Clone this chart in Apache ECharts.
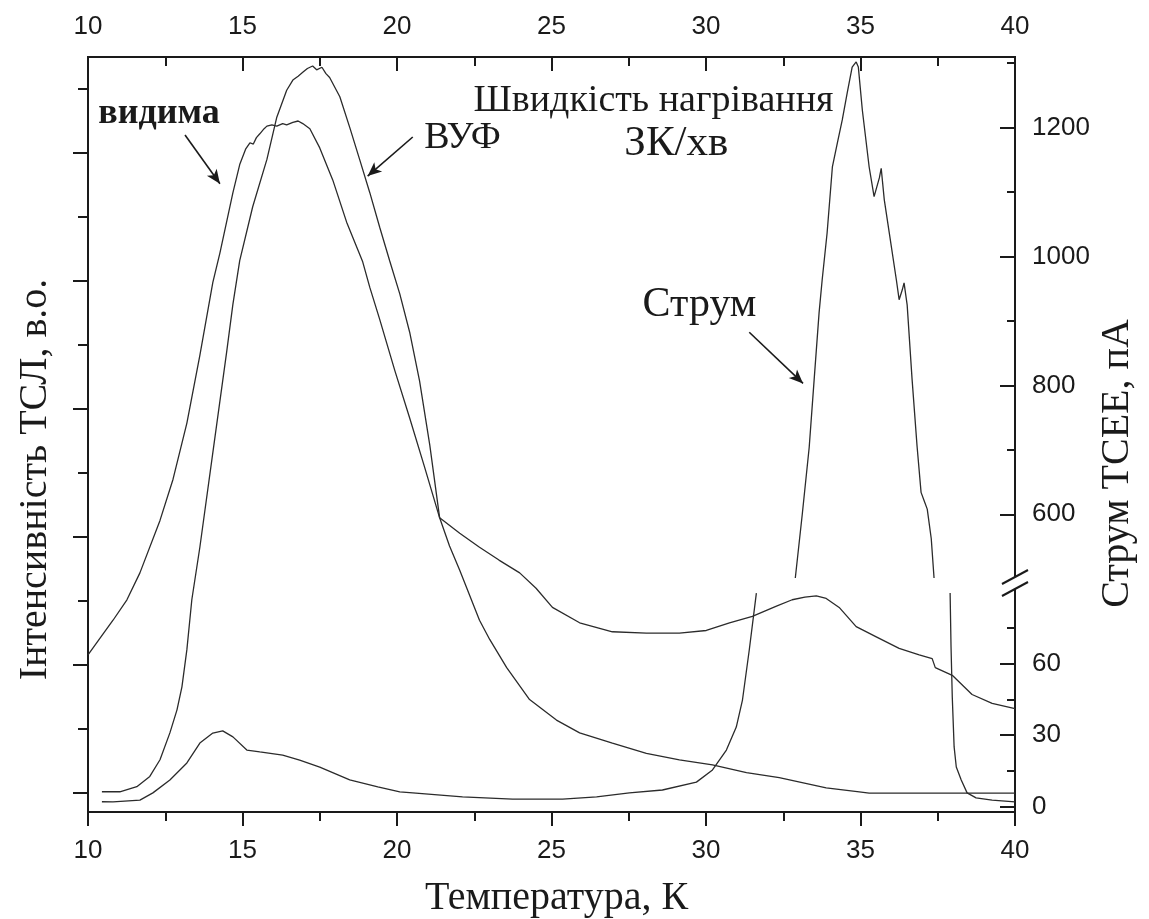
<!DOCTYPE html>
<html>
<head>
<meta charset="utf-8">
<script src="https://cdn.jsdelivr.net/npm/echarts@6/dist/echarts.min.js"></script>
<style>
  html, body { margin: 0; padding: 0; background: #fff; }
  #chart { width: 1149px; height: 919px; }
</style>
</head>
<body>
<div id="chart"></div>
<script>
// Temperature axis, K
const tempMin = 10;
const tempMax = 40;

// TSL intensity (arb. units), visible band: [T, I]
const visibleTSL = [
  [10.00, 1.08], [10.39, 1.21], [10.81, 1.35], [11.26, 1.51], [11.68, 1.72],
  [12.33, 2.13], [12.75, 2.45], [13.20, 2.89], [13.62, 3.42], [14.04, 3.99],
  [14.27, 4.22], [14.69, 4.69], [14.91, 4.91], [15.10, 5.03], [15.24, 5.08],
  [15.35, 5.07], [15.45, 5.12], [15.56, 5.15], [15.70, 5.19], [15.79, 5.21],
  [15.95, 5.22], [16.11, 5.21], [16.30, 5.23], [16.43, 5.22], [16.63, 5.24],
  [16.80, 5.25], [16.95, 5.23], [17.18, 5.19], [17.50, 5.04], [17.92, 4.79],
  [18.37, 4.46], [18.89, 4.15], [19.12, 3.95], [19.44, 3.70], [19.93, 3.30],
  [20.41, 2.93], [20.90, 2.54], [21.38, 2.15], [22.03, 2.03], [22.67, 1.92],
  [23.30, 1.82], [23.97, 1.72], [24.50, 1.60], [25.03, 1.45], [25.91, 1.33],
  [26.97, 1.26], [28.07, 1.25], [29.14, 1.25], [30.01, 1.27], [30.76, 1.33],
  [31.50, 1.38], [32.28, 1.46], [32.79, 1.51], [33.20, 1.53], [33.57, 1.54],
  [33.89, 1.52], [34.31, 1.45], [34.86, 1.30], [35.51, 1.22], [36.25, 1.13],
  [36.90, 1.08], [37.32, 1.05], [37.42, 0.98], [37.97, 0.92], [38.61, 0.77],
  [39.26, 0.70], [40.00, 0.66]
];

// TSL intensity (arb. units), VUV band: [T, I]
const vuvTSL = [
  [10.45, 0.01], [11.03, 0.01], [11.58, 0.05], [12.00, 0.13], [12.33, 0.26],
  [12.65, 0.47], [12.88, 0.65], [13.04, 0.83], [13.20, 1.12], [13.36, 1.51],
  [13.62, 1.92], [14.04, 2.66], [14.49, 3.45], [14.69, 3.82], [14.91, 4.16],
  [15.33, 4.58], [15.79, 4.95], [16.11, 5.28], [16.43, 5.49], [16.63, 5.57],
  [16.80, 5.60], [16.95, 5.63], [17.10, 5.66], [17.27, 5.68], [17.40, 5.65],
  [17.57, 5.67], [17.70, 5.62], [17.82, 5.59], [18.15, 5.44], [18.47, 5.20],
  [18.79, 4.95], [19.12, 4.69], [19.44, 4.42], [19.76, 4.16], [20.09, 3.90],
  [20.41, 3.60], [20.73, 3.22], [21.06, 2.72], [21.38, 2.15], [21.70, 1.93],
  [22.03, 1.74], [22.67, 1.35], [23.00, 1.20], [23.55, 0.98], [24.29, 0.73],
  [25.16, 0.57], [25.91, 0.47], [26.97, 0.39], [28.07, 0.31], [29.14, 0.26],
  [30.21, 0.22], [31.31, 0.16], [32.37, 0.12], [33.89, 0.04], [34.96, 0.01],
  [35.28, 0.00], [40.00, 0.00]
];

// TSEE current, pA — low-range part before the break
const currentLowRise = [
  [10.45, 2.2], [10.81, 2.1], [11.68, 2.9], [12.10, 5.9], [12.65, 11.3],
  [13.20, 18.4], [13.62, 26.7], [14.04, 30.9], [14.36, 31.8], [14.69, 29.3],
  [15.14, 23.8], [15.56, 23.0], [16.30, 21.7], [16.85, 19.6], [17.50, 16.7],
  [18.47, 11.3], [19.38, 8.4], [20.09, 6.3], [20.51, 5.9], [22.12, 4.2],
  [23.74, 3.3], [25.36, 3.3], [26.46, 4.2], [27.52, 5.9], [28.59, 7.1],
  [29.69, 10.4], [30.21, 15.5], [30.66, 23.8], [30.98, 33.4], [31.18, 44.7],
  [31.40, 65.6], [31.63, 89.4]
];

// TSEE current, pA — high-range part above the break
const currentHigh = [
  [32.89, 501], [33.12, 602], [33.34, 704], [33.50, 809], [33.66, 913],
  [33.76, 964], [33.92, 1037], [34.09, 1139], [34.25, 1176], [34.41, 1212],
  [34.57, 1254], [34.73, 1294], [34.86, 1302], [34.93, 1294], [35.06, 1227],
  [35.28, 1139], [35.44, 1093], [35.61, 1122], [35.67, 1137], [35.77, 1088],
  [35.93, 1037], [36.16, 964], [36.25, 933], [36.35, 948], [36.41, 959],
  [36.51, 925], [36.67, 809], [36.83, 706], [36.96, 634], [37.06, 621],
  [37.16, 608], [37.29, 562], [37.38, 501]
];

// TSEE current, pA — low-range part after the break
const currentLowFall = [
  [37.90, 89.4], [37.93, 66.9], [37.97, 46.0], [38.03, 25.1], [38.10, 16.7],
  [38.26, 11.3], [38.45, 5.9], [38.74, 3.8], [39.26, 2.9], [40.00, 2.1]
];

// Tick values
const tslMajorTicks = [0, 1, 2, 3, 4, 5];
const tslMinorTicks = [0.5, 1.5, 2.5, 3.5, 4.5, 5.5];
const currentHighTicks = [600, 800, 1000, 1200];
const currentHighMinor = [700, 900, 1100, 1300];
const currentLowTicks = [0, 30, 60];
const currentLowMinor = [15, 45, 75];

// Axis extents for the three vertical scales
const tslRange = [-0.148, 5.75];
const currentHighRange = [137.9, 1309.7];
const currentLowRange = [-2.09, 313.4];
const breakValue = 93.6;   // where the right axis is broken (low-range units)

const INK = '#1a1a1a';
const LINE = '#2b2b2b';
const SANS = '"Liberation Sans", Arial, sans-serif';
const SERIF = '"Liberation Serif", "Times New Roman", serif';

const chart = echarts.init(document.getElementById('chart'), null, { renderer: 'canvas' });

function yAxisBase(pos, range, ticks, tickLen, inside, labels) {
  return {
    type: 'value', position: pos, min: range[0], max: range[1],
    axisLine: { show: false, onZero: false },
    splitLine: { show: false },
    axisTick: { show: true, customValues: ticks, length: tickLen, inside: inside,
                lineStyle: { color: INK, width: 2 } },
    axisLabel: labels ? { show: true, customValues: ticks, margin: 17,
                formatter: v => String(v),
                fontFamily: SANS, fontSize: 26, color: INK } : { show: false },
    nameMoveOverlap: false
  };
}

const leftMajor = yAxisBase('left', tslRange, tslMajorTicks, 15, false, false);
leftMajor.name = 'Інтенсивність ТСЛ, в.о.';
leftMajor.nameLocation = 'middle';
leftMajor.nameGap = 33;
leftMajor.nameTextStyle = { fontFamily: SERIF, fontSize: 40, color: INK, padding: [0, 90, 0, 0] };

const rightHighMajor = yAxisBase('right', currentHighRange, currentHighTicks, 15, true, true);
rightHighMajor.name = 'Струм ТСЕЕ, пА';
rightHighMajor.nameLocation = 'middle';
rightHighMajor.nameGap = 82;
rightHighMajor.nameTextStyle = { fontFamily: SERIF, fontSize: 40, color: INK, padding: [0, 58, 0, 0] };

function xAxisBase(pos, inside, labelMargin) {
  return {
    type: 'value', position: pos, min: tempMin, max: tempMax, interval: 5,
    axisLine: { show: false, onZero: false },
    splitLine: { show: false },
    axisTick: { show: true, length: 14, inside: inside, lineStyle: { color: INK, width: 2 } },
    minorTick: { show: true, splitNumber: 2, length: 9, lineStyle: { color: INK, width: 2 } },
    axisLabel: { margin: labelMargin, fontFamily: SANS, fontSize: 26, color: INK },
    nameMoveOverlap: false
  };
}

const bottomAxis = xAxisBase('bottom', false, 26);
bottomAxis.name = 'Температура, К';
bottomAxis.nameLocation = 'middle';
bottomAxis.nameGap = 66;
bottomAxis.nameTextStyle = { fontFamily: SERIF, fontSize: 40, color: INK, padding: [0, 0, 0, 10] };
const topAxis = xAxisBase('top', true, 17);

function curve(name, data, yIdx, extra) {
  return Object.assign({
    name, type: 'line', data, xAxisIndex: 0, yAxisIndex: yIdx,
    showSymbol: false, symbol: 'none', smooth: false, silent: true,
    lineStyle: { color: LINE, width: 1.3 }, animation: false
  }, extra || {});
}

// Pointer arrows, in temperature / TSL units
const arrowStyle = { color: INK, width: 1.6, type: 'solid' };
const pointerLines = {
  silent: true, symbol: ['none', 'arrow'], symbolSize: [9, 14],
  label: { show: false }, lineStyle: arrowStyle, emphasis: { disabled: true },
  data: [
    [{ coord: [13.14, 5.14] }, { coord: [14.27, 4.76] }],
    [{ coord: [20.51, 5.125] }, { coord: [19.05, 4.82] }]
  ]
};
const currentPointer = {
  silent: true, symbol: ['none', 'arrow'], symbolSize: [9, 14],
  label: { show: false }, lineStyle: arrowStyle, emphasis: { disabled: true },
  data: [[{ coord: [31.40, 3.60] }, { coord: [33.14, 3.20] }]]
};

const option = {
  animation: false,
  backgroundColor: '#fff',
  grid: {
    left: 88, right: 134, top: 57, bottom: 107,
    containLabel: false, outerBoundsMode: 'none',
    show: true, borderColor: INK, borderWidth: 2, backgroundColor: 'transparent'
  },
  xAxis: [bottomAxis, topAxis],
  yAxis: [
    leftMajor,
    yAxisBase('left', tslRange, tslMinorTicks, 10, false, false),
    rightHighMajor,
    yAxisBase('right', currentHighRange, currentHighMinor, 8, true, false),
    yAxisBase('right', currentLowRange, currentLowTicks, 15, true, true),
    yAxisBase('right', currentLowRange, currentLowMinor, 8, true, false)
  ],
  series: [
    curve('видима', visibleTSL, 0, { markLine: pointerLines }),
    curve('ВУФ', vuvTSL, 0, { markLine: currentPointer }),
    curve('Струм', currentLowRise, 4),
    curve('Струм (верх)', currentHigh, 2),
    curve('Струм (спад)', currentLowFall, 4)
  ]
};
chart.setOption(option);

// Text annotations placed in temperature / TSL coordinates
const notes = [
  { text: 'видима', at: [12.30, 5.31], size: 36, weight: 'bold' },
  { text: 'ВУФ', at: [22.12, 5.12], size: 38, weight: 'normal' },
  { text: 'Швидкість нагрівання', at: [28.30, 5.41], size: 38, weight: 'normal' },
  { text: 'ЗК/хв', at: [29.04, 5.07], size: 43, weight: 'normal' },
  { text: 'Струм', at: [29.79, 3.81], size: 42, weight: 'normal' }
];
const graphics = notes.map(n => {
  const p = chart.convertToPixel({ xAxisIndex: 0, yAxisIndex: 0 }, n.at);
  return {
    type: 'text', x: p[0], y: p[1], silent: true,
    style: { text: n.text, fill: INK, font: `${n.weight} ${n.size}px ${SERIF}`,
             textAlign: 'center', textVerticalAlign: 'middle' }
  };
});

// Break marks on the right axis
const xr = chart.convertToPixel({ xAxisIndex: 0 }, tempMax);
const yb = chart.convertToPixel({ yAxisIndex: 4 }, breakValue);
graphics.push(
  { type: 'rect', shape: { x: xr - 4, y: yb - 6, width: 8, height: 12 }, style: { fill: '#fff' }, silent: true },
  { type: 'line', shape: { x1: xr - 13, y1: yb + 1, x2: xr + 13, y2: yb - 13 }, style: { stroke: INK, lineWidth: 2 }, silent: true },
  { type: 'line', shape: { x1: xr - 13, y1: yb + 13, x2: xr + 13, y2: yb - 1 }, style: { stroke: INK, lineWidth: 2 }, silent: true }
);
chart.setOption({ graphic: graphics });
</script>
</body>
</html>
